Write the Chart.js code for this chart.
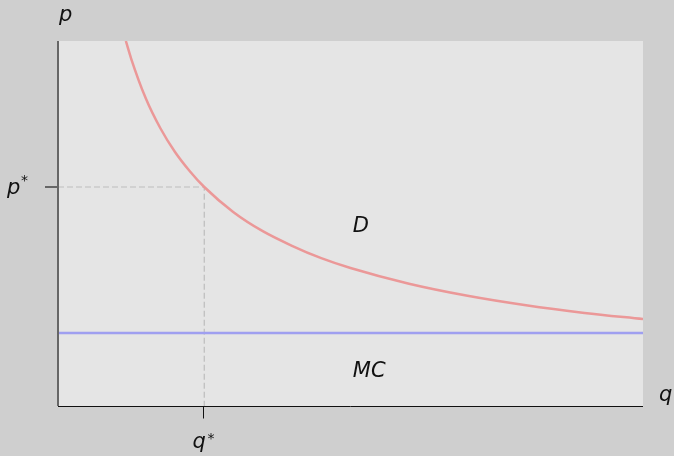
<!DOCTYPE html>
<html>
<head>
<meta charset="utf-8">
<script src="https://cdn.jsdelivr.net/npm/chart.js@4/dist/chart.umd.min.js"></script>
<style>
  html, body { margin: 0; padding: 0; background: #cfcfcf; }
  #wrap { width: 674px; height: 456px; }
</style>
</head>
<body>
<div id="wrap"><canvas id="chart"></canvas></div>
<script>
// demand curve (q, p)
const demandQ = [1.16, 1.25, 1.5, 1.75, 2, 2.25, 2.5, 3, 3.5, 4, 4.5, 5, 6, 7, 8, 9, 10];
const demandP = [10.0, 9.52, 8.43, 7.61, 6.96, 6.44, 6.0, 5.31, 4.79, 4.39, 4.05, 3.78, 3.35, 3.02, 2.76, 2.55, 2.38];
// marginal cost, flat
const mcQ = [0, 10];
const mcP = [2.0, 2.0];
// equilibrium point
const qStar = 2.5;
const pStar = 6.0;

const FONT = 'italic 21px "DejaVu Sans"';
const STAR = 'italic 14px "DejaVu Sans"';

// background, axes, ticks and the text labels
const decor = {
  id: 'decor',
  beforeDraw(chart) {
    const { ctx, chartArea: a } = chart;
    ctx.save();
    ctx.fillStyle = '#cfcfcf';
    ctx.fillRect(0, 0, chart.width, chart.height);
    ctx.fillStyle = '#e5e5e5';
    ctx.fillRect(a.left, a.top, a.right - a.left, a.bottom - a.top);
    ctx.restore();
  },
  afterDraw(chart) {
    const { ctx, chartArea: a, scales: { x, y } } = chart;
    const px = Math.round(x.getPixelForValue(qStar)) + 0.5;
    const py = Math.round(y.getPixelForValue(pStar)) + 0.5;
    const bottom = Math.round(a.bottom) + 0.5;
    ctx.save();
    // left axis
    ctx.strokeStyle = '#666';
    ctx.lineWidth = 2;
    ctx.beginPath();
    ctx.moveTo(a.left, a.top);
    ctx.lineTo(a.left, a.bottom);
    ctx.stroke();
    // p* tick
    ctx.lineWidth = 2;
    ctx.beginPath();
    ctx.moveTo(a.left - 13, py - 0.5);
    ctx.lineTo(a.left, py - 0.5);
    ctx.stroke();
    // bottom axis
    ctx.strokeStyle = '#111';
    ctx.lineWidth = 1;
    ctx.beginPath();
    ctx.moveTo(a.left, bottom);
    ctx.lineTo(a.right, bottom);
    ctx.stroke();
    // q* tick
    ctx.beginPath();
    ctx.moveTo(px - 1, bottom);
    ctx.lineTo(px - 1, bottom + 12);
    ctx.stroke();

    ctx.fillStyle = '#111';
    ctx.font = FONT;
    ctx.textBaseline = 'alphabetic';
    ctx.textAlign = 'left';
    ctx.fillText('p', a.left + 1, 21);
    ctx.fillText('q', a.right + 16, 401);
    // p*
    ctx.fillText('p', 7, py + 6);
    ctx.font = STAR;
    ctx.fillText('*', 21, py - 3);
    // q*
    ctx.font = FONT;
    ctx.fillText('q', px - 12, 448);
    ctx.font = STAR;
    ctx.fillText('*', px + 3, 443);
    // curve names
    ctx.font = FONT;
    ctx.fillText('D', x.getPixelForValue(5.04), y.getPixelForValue(4.77));
    ctx.fillText('MC', x.getPixelForValue(5.04), y.getPixelForValue(0.79));
    ctx.restore();
  }
};

new Chart(document.getElementById('chart'), {
  type: 'line',
  data: {
    datasets: [
      {
        data: [{ x: 0, y: pStar }, { x: qStar, y: pStar }, { x: qStar, y: 0 }],
        borderColor: '#bdbdbd',
        borderWidth: 1.2,
        borderDash: [6, 3],
        pointRadius: 0,
        tension: 0,
        order: 3
      },
      {
        data: mcQ.map((q, i) => ({ x: q, y: mcP[i] })),
        borderColor: '#9f9ff0',
        borderWidth: 2.5,
        pointRadius: 0,
        order: 2
      },
      {
        data: demandQ.map((q, i) => ({ x: q, y: demandP[i] })),
        borderColor: '#eb9898',
        borderWidth: 2.5,
        pointRadius: 0,
        cubicInterpolationMode: 'monotone',
        order: 1
      }
    ]
  },
  options: {
    responsive: true,
    maintainAspectRatio: false,
    animation: false,
    layout: { padding: { left: 58, right: 31, top: 41, bottom: 50 } },
    plugins: { legend: { display: false }, tooltip: { enabled: false } },
    scales: {
      x: { type: 'linear', min: 0, max: 10, display: false },
      y: { type: 'linear', min: 0, max: 10, display: false }
    }
  },
  plugins: [decor]
});
</script>
</body>
</html>
